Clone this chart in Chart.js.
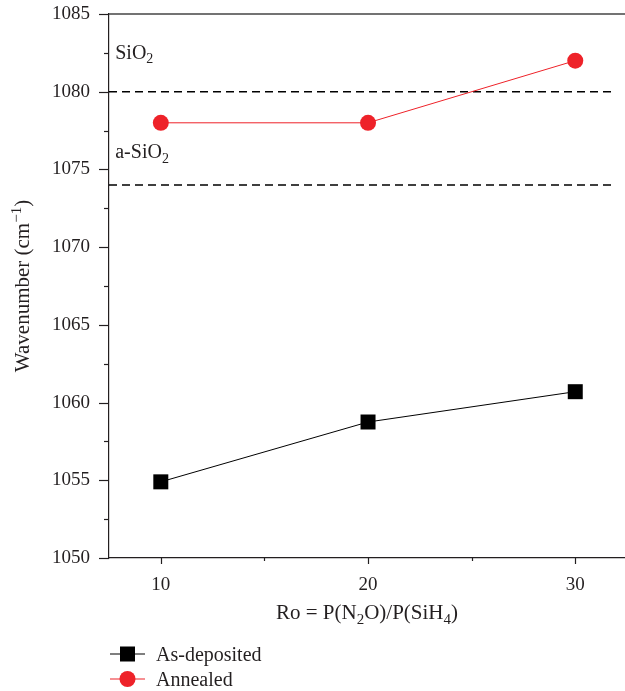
<!DOCTYPE html>
<html><head><meta charset="utf-8">
<script src="https://cdn.jsdelivr.net/npm/chart.js@4"></script>
<style>html,body{margin:0;padding:0;background:#fff}</style>
</head><body>
<canvas id="c" width="625" height="691"></canvas>
<script>
const ratios = [10, 20, 30];
const asDeposited = [1054.9, 1058.75, 1060.7];
const annealed = [1078, 1078, 1082];
const refLevels = [1080, 1074];
const refLineStartX = 7.5;
const refLineEndX = 31.85;
const refLabelX = 7.8;
const refLabelY = [1082.5, 1076.1];
const xMin = 7.5, xMax = 32.4;
const yMin = 1050, yMax = 1085;
const xMajorTicks = [10, 20, 30];
const xMinorTicks = [15, 25];
const seriesNames = ['As-deposited', 'Annealed'];

const RED = '#ee2229';
const FONT = '"Liberation Serif", "DejaVu Serif", serif';

function richText(ctx, segs, x, y, size, align) {
  const small = Math.round(size * 0.7);
  let total = 0;
  const widths = segs.map(([t, m]) => {
    ctx.font = (m ? small : size) + 'px ' + FONT;
    const w = ctx.measureText(t).width; total += w; return w;
  });
  let cx = align === 'center' ? x - total / 2 : x;
  ctx.textAlign = 'left';
  ctx.textBaseline = 'alphabetic';
  segs.forEach(([t, m], i) => {
    ctx.font = (m ? small : size) + 'px ' + FONT;
    const dy = m === 1 ? size * 0.22 : (m === 2 ? -size * 0.38 : 0);
    ctx.fillText(t, cx, y + dy);
    cx += widths[i];
  });
}

const decor = {
  id: 'decor',
  afterDraw(chart) {
    const ctx = chart.ctx, a = chart.chartArea;
    const xs = chart.scales.x, ys = chart.scales.y;
    ctx.save();
    ctx.lineWidth = 1.5;
    ctx.strokeStyle = '#444';
    ctx.beginPath(); ctx.moveTo(a.left, a.top); ctx.lineTo(a.right, a.top); ctx.stroke();
    ctx.strokeStyle = '#231f20';
    ctx.fillStyle = '#231f20';
    ctx.lineWidth = 1.2;
    for (let v = yMin; v <= yMax + 1e-9; v += 2.5) {
      const py = Math.round(ys.getPixelForValue(v)) + 0.5;
      const len = (v % 5 === 0) ? 10 : 5;
      ctx.beginPath(); ctx.moveTo(a.left - len, py); ctx.lineTo(a.left, py); ctx.stroke();
    }
    xMajorTicks.forEach(v => {
      const px = Math.round(xs.getPixelForValue(v)) + 0.5;
      ctx.beginPath(); ctx.moveTo(px, a.bottom); ctx.lineTo(px, a.bottom + 6); ctx.stroke();
    });
    xMinorTicks.forEach(v => {
      const px = Math.round(xs.getPixelForValue(v)) + 0.5;
      ctx.beginPath(); ctx.moveTo(px, a.bottom); ctx.lineTo(px, a.bottom + 3); ctx.stroke();
    });
    richText(ctx, [['SiO', 0], ['2', 1]], xs.getPixelForValue(refLabelX), ys.getPixelForValue(refLabelY[0]) + 6, 20, 'left');
    richText(ctx, [['a-SiO', 0], ['2', 1]], xs.getPixelForValue(refLabelX), ys.getPixelForValue(refLabelY[1]) + 6, 20, 'left');
    richText(ctx, [['Ro = P(N', 0], ['2', 1], ['O)/P(SiH', 0], ['4', 1], [')', 0]], (a.left + a.right) / 2, 619, 21, 'center');
    ctx.save();
    ctx.translate(29, (a.top + a.bottom) / 2);
    ctx.rotate(-Math.PI / 2);
    richText(ctx, [['Wavenumber (cm', 0], ['\u22121', 2], [')', 0]], 0, 0, 21, 'center');
    ctx.restore();
    const lx0 = 110, lx1 = 145, mx = 127.5, tx = 156;
    const rows = [654, 679];
    ctx.lineWidth = 1.2;
    ctx.strokeStyle = '#000';
    ctx.beginPath(); ctx.moveTo(lx0, rows[0]); ctx.lineTo(lx1, rows[0]); ctx.stroke();
    ctx.fillStyle = '#000';
    ctx.fillRect(mx - 7.5, rows[0] - 7.5, 15, 15);
    ctx.strokeStyle = RED;
    ctx.beginPath(); ctx.moveTo(lx0, rows[1]); ctx.lineTo(lx1, rows[1]); ctx.stroke();
    ctx.fillStyle = RED;
    ctx.beginPath(); ctx.arc(mx, rows[1], 8, 0, Math.PI * 2); ctx.fill();
    ctx.fillStyle = '#231f20';
    ctx.font = '20px ' + FONT;
    ctx.textAlign = 'left'; ctx.textBaseline = 'alphabetic';
    ctx.fillText(seriesNames[0], tx, rows[0] + 7);
    ctx.fillText(seriesNames[1], tx, rows[1] + 7);
    ctx.restore();
  }
};

const refDatasets = refLevels.map(v => ({
  label: 'ref' + v,
  data: [{x: refLineStartX, y: v}, {x: refLineEndX, y: v}],
  borderColor: '#000', borderWidth: 1.5, borderDash: [8, 5],
  pointRadius: 0, fill: false, order: 3
}));

new Chart(document.getElementById('c'), {
  type: 'line',
  data: {
    datasets: [
      ...refDatasets,
      {
        label: seriesNames[0],
        data: ratios.map((r, i) => ({x: r, y: asDeposited[i]})),
        borderColor: '#000', backgroundColor: '#000', borderWidth: 1,
        pointStyle: 'rect', pointRadius: 10.6, pointBorderWidth: 0, order: 1
      },
      {
        label: seriesNames[1],
        data: ratios.map((r, i) => ({x: r, y: annealed[i]})),
        borderColor: RED, backgroundColor: RED, borderWidth: 1,
        pointStyle: 'circle', pointRadius: 8, pointBorderWidth: 0, order: 2
      }
    ]
  },
  options: {
    responsive: false, animation: false,
    layout: {autoPadding: false, padding: {top: 14, right: 0, left: 0, bottom: 0}},
    plugins: {legend: {display: false}, tooltip: {enabled: false}},
    elements: {line: {tension: 0}},
    scales: {
      x: {
        type: 'linear', min: xMin, max: xMax,
        afterFit: s => { s.height = 133; s.paddingLeft = 0; s.paddingRight = 0; },
        afterBuildTicks: s => { s.ticks = xMajorTicks.map(v => ({value: v})); },
        grid: {display: false, drawTicks: false},
        border: {display: true, color: '#231f20', width: 1.2},
        ticks: {padding: 16, color: '#231f20', font: {family: FONT, size: 19}, callback: v => String(v)}
      },
      y: {
        min: yMin, max: yMax,
        afterFit: s => { s.width = 109; s.paddingTop = 0; s.paddingBottom = 0; },
        grid: {display: false, drawTicks: false},
        border: {display: true, color: '#231f20', width: 1.2},
        ticks: {stepSize: 5, padding: 19, color: '#231f20', font: {family: FONT, size: 19}, callback: v => String(v)}
      }
    }
  },
  plugins: [decor]
});
</script>
</body></html>
